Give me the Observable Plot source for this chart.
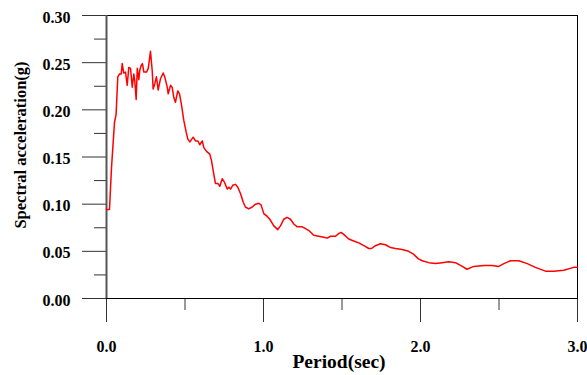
<!DOCTYPE html>
<html>
<head>
<meta charset="utf-8">
<script src="https://cdn.jsdelivr.net/npm/d3@7"></script>
<script src="https://cdn.jsdelivr.net/npm/@observablehq/plot@0.6"></script>
<style>
  html, body { margin: 0; padding: 0; background: #fff; }
  #chart svg { display: block; }
</style>
</head>
<body>
<div id="chart"></div>
<script>
const period = [0, 0.019, 0.032, 0.051, 0.061, 0.072, 0.083, 0.094, 0.100, 0.110, 0.121, 0.132, 0.142, 0.153, 0.164, 0.174, 0.180, 0.189, 0.196, 0.206, 0.212, 0.221, 0.229, 0.238, 0.255, 0.266, 0.280, 0.291, 0.297, 0.308, 0.318, 0.329, 0.344, 0.361, 0.371, 0.387, 0.393, 0.408, 0.418, 0.429, 0.439, 0.454, 0.465, 0.478, 0.492, 0.508, 0.518, 0.531, 0.552, 0.567, 0.582, 0.594, 0.610, 0.620, 0.637, 0.658, 0.669, 0.683, 0.694, 0.709, 0.722, 0.737, 0.752, 0.769, 0.779, 0.790, 0.804, 0.822, 0.836, 0.854, 0.871, 0.885, 0.906, 0.928, 0.949, 0.970, 0.985, 1.002, 1.024, 1.040, 1.066, 1.091, 1.108, 1.129, 1.150, 1.172, 1.193, 1.215, 1.247, 1.268, 1.289, 1.320, 1.352, 1.384, 1.406, 1.427, 1.459, 1.480, 1.495, 1.511, 1.543, 1.575, 1.607, 1.639, 1.671, 1.688, 1.713, 1.745, 1.777, 1.809, 1.841, 1.883, 1.925, 1.955, 1.987, 2.011, 2.053, 2.096, 2.138, 2.180, 2.223, 2.266, 2.296, 2.339, 2.403, 2.457, 2.499, 2.531, 2.573, 2.626, 2.680, 2.732, 2.796, 2.849, 2.913, 2.976, 3.0];
const accel = [0.0944, 0.0944, 0.139, 0.187, 0.195, 0.235, 0.238, 0.238, 0.249, 0.239, 0.240, 0.226, 0.245, 0.244, 0.224, 0.238, 0.231, 0.211, 0.244, 0.232, 0.242, 0.247, 0.249, 0.240, 0.240, 0.244, 0.262, 0.242, 0.222, 0.228, 0.235, 0.221, 0.233, 0.239, 0.235, 0.224, 0.217, 0.226, 0.224, 0.213, 0.208, 0.220, 0.217, 0.205, 0.189, 0.176, 0.169, 0.166, 0.171, 0.167, 0.167, 0.163, 0.167, 0.160, 0.156, 0.153, 0.146, 0.132, 0.122, 0.122, 0.119, 0.127, 0.123, 0.116, 0.118, 0.116, 0.120, 0.121, 0.118, 0.111, 0.102, 0.097, 0.095, 0.097, 0.100, 0.101, 0.099, 0.090, 0.087, 0.084, 0.077, 0.073, 0.077, 0.084, 0.086, 0.084, 0.079, 0.076, 0.076, 0.074, 0.072, 0.067, 0.066, 0.065, 0.064, 0.066, 0.066, 0.069, 0.070, 0.068, 0.063, 0.061, 0.059, 0.056, 0.053, 0.053, 0.056, 0.058, 0.057, 0.054, 0.053, 0.052, 0.050, 0.047, 0.042, 0.040, 0.038, 0.037, 0.038, 0.039, 0.038, 0.034, 0.031, 0.034, 0.035, 0.035, 0.034, 0.037, 0.040, 0.040, 0.037, 0.033, 0.029, 0.029, 0.030, 0.033, 0.033];

const xMajorTicks = [0, 1, 2, 3];
const xMinorTicks = [0.5, 1.5, 2.5];
const yMajorTicks = [0, 0.05, 0.10, 0.15, 0.20, 0.25, 0.30];
const yMinorTicks = [0.025, 0.075, 0.125, 0.175, 0.225, 0.275];
const xTitle = "Period(sec)";
const yTitle = "Spectral acceleration(g)";

const data = period.map((p, i) => ({period: p, accel: accel[i]}));
const fmtX = d3.format(".1f");
const fmtY = d3.format(".2f");

const chart = Plot.plot({
  width: 587,
  height: 375,
  marginLeft: 106,
  marginRight: 10,
  marginTop: 15,
  marginBottom: 77,
  style: {fontFamily: "'Liberation Serif', 'Times New Roman', serif", fontWeight: "bold", fontSize: "16px", background: "#fff", color: "#000"},
  x: {domain: [0, 3]},
  y: {domain: [0, 0.3]},
  marks: [
    Plot.axisX({ticks: xMajorTicks, tickSize: 24, tickFormat: () => "", label: null, stroke: "#333"}),
    Plot.axisX({ticks: xMinorTicks, tickSize: 12, tickFormat: () => "", label: null, stroke: "#333"}),
    Plot.axisY({ticks: yMajorTicks, tickSize: 24, tickFormat: () => "", label: null, stroke: "#333"}),
    Plot.axisY({ticks: yMinorTicks, tickSize: 12, tickFormat: () => "", label: null, stroke: "#333"}),
    Plot.text(xMajorTicks, {x: d => d, y: 0, text: d => fmtX(d), dy: 48, textAnchor: "middle", lineAnchor: "middle", fontSize: 16, fontWeight: "bold", fill: "#000"}),
    Plot.text(yMajorTicks, {x: 0, y: d => d, text: d => fmtY(d), dx: -36, dy: 2, textAnchor: "end", lineAnchor: "middle", fontSize: 16, fontWeight: "bold", fill: "#000"}),
    Plot.frame({stroke: "#000"}),
    Plot.ruleX([0], {stroke: "#555", strokeWidth: 2}),
    Plot.line(data, {x: "period", y: "accel", stroke: "#ff0000", strokeWidth: 1.5}),
    Plot.text([yTitle], {frameAnchor: "left", textAnchor: "middle", lineAnchor: "middle", dx: -86, dy: -12, rotate: -90, fontSize: 16.5, fontWeight: "bold", fill: "#000"}),
    Plot.text([xTitle], {frameAnchor: "bottom", textAnchor: "middle", lineAnchor: "middle", dx: -3, dy: 63, fontSize: 19.5, fontWeight: "bold", fill: "#000"})
  ]
});
document.getElementById("chart").appendChild(chart);
</script>
</body>
</html>
